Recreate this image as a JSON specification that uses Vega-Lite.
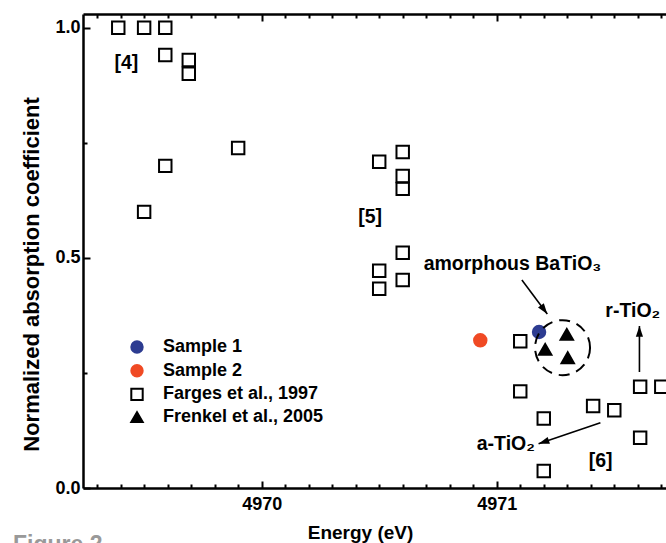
{
  "$schema": "https://vega.github.io/schema/vega-lite/v6.json",
  "width": 583,
  "height": 474,
  "autosize": {"type": "none"},
  "padding": {"left": 83, "top": 14, "right": 0, "bottom": 55},
  "background": "white",
  "title": {"text": "Figure 2", "orient": "bottom", "anchor": "start", "frame": "group", "offset": -8, "dx": -70, "font": "Liberation Sans", "fontSize": 23, "fontWeight": "bold", "color": "#999999"},
  "config": {"view": {"stroke": null}, "font": "Liberation Sans", "axis": {"grid": false, "domainColor": "black", "tickColor": "black", "labelColor": "black", "titleColor": "black", "labelFont": "Liberation Sans", "titleFont": "Liberation Sans"},
    "legend": {"orient": "none", "legendX": 45, "legendY": 324, "padding": 0, "labelFont": "Liberation Sans", "labelFontSize": 18, "labelFontWeight": "bold", "labelColor": "black", "labelLimit": 400, "symbolSize": 130, "symbolStrokeWidth": 2, "labelOffset": 17, "rowPadding": 3.7}},
  "datasets": {
    "points": [
      {"energy": 4969.39, "absorption": 1.0, "series": "Farges et al., 1997"},
      {"energy": 4969.50, "absorption": 1.0, "series": "Farges et al., 1997"},
      {"energy": 4969.59, "absorption": 1.0, "series": "Farges et al., 1997"},
      {"energy": 4969.59, "absorption": 0.941, "series": "Farges et al., 1997"},
      {"energy": 4969.69, "absorption": 0.930, "series": "Farges et al., 1997"},
      {"energy": 4969.69, "absorption": 0.900, "series": "Farges et al., 1997"},
      {"energy": 4969.59, "absorption": 0.700, "series": "Farges et al., 1997"},
      {"energy": 4969.50, "absorption": 0.600, "series": "Farges et al., 1997"},
      {"energy": 4969.90, "absorption": 0.739, "series": "Farges et al., 1997"},
      {"energy": 4970.50, "absorption": 0.709, "series": "Farges et al., 1997"},
      {"energy": 4970.60, "absorption": 0.730, "series": "Farges et al., 1997"},
      {"energy": 4970.60, "absorption": 0.678, "series": "Farges et al., 1997"},
      {"energy": 4970.60, "absorption": 0.650, "series": "Farges et al., 1997"},
      {"energy": 4970.50, "absorption": 0.472, "series": "Farges et al., 1997"},
      {"energy": 4970.60, "absorption": 0.511, "series": "Farges et al., 1997"},
      {"energy": 4970.50, "absorption": 0.433, "series": "Farges et al., 1997"},
      {"energy": 4970.60, "absorption": 0.452, "series": "Farges et al., 1997"},
      {"energy": 4971.10, "absorption": 0.319, "series": "Farges et al., 1997"},
      {"energy": 4971.10, "absorption": 0.210, "series": "Farges et al., 1997"},
      {"energy": 4971.20, "absorption": 0.151, "series": "Farges et al., 1997"},
      {"energy": 4971.20, "absorption": 0.037, "series": "Farges et al., 1997"},
      {"energy": 4971.41, "absorption": 0.178, "series": "Farges et al., 1997"},
      {"energy": 4971.50, "absorption": 0.169, "series": "Farges et al., 1997"},
      {"energy": 4971.61, "absorption": 0.220, "series": "Farges et al., 1997"},
      {"energy": 4971.70, "absorption": 0.220, "series": "Farges et al., 1997"},
      {"energy": 4971.61, "absorption": 0.109, "series": "Farges et al., 1997"},
      {"energy": 4970.93, "absorption": 0.321, "series": "Sample 2"},
      {"energy": 4971.18, "absorption": 0.339, "series": "Sample 1"},
      {"energy": 4971.298, "absorption": 0.334, "series": "Frenkel et al., 2005"},
      {"energy": 4971.206, "absorption": 0.301, "series": "Frenkel et al., 2005"},
      {"energy": 4971.302, "absorption": 0.283, "series": "Frenkel et al., 2005"}
    ],
    "group": [{"energy": 4971.28, "absorption": 0.305}],
    "arrows": [
      {"arrow": "amorphous", "energy_start": 4971.107, "absorption_start": 0.452, "energy_end": 4971.215, "absorption_end": 0.378},
      {"arrow": "a-TiO2", "energy_start": 4971.441, "absorption_start": 0.142, "energy_end": 4971.178, "absorption_end": 0.096},
      {"arrow": "r-TiO2", "energy_start": 4971.607, "absorption_start": 0.252, "energy_end": 4971.607, "absorption_end": 0.352}
    ],
    "labels": [
      {"label": "[4]", "energy": 4969.374, "absorption": 0.910},
      {"label": "[5]", "energy": 4970.411, "absorption": 0.575},
      {"label": "[6]", "energy": 4971.391, "absorption": 0.046},
      {"label": "amorphous BaTiO₃", "energy": 4970.689, "absorption": 0.473},
      {"label": "r-TiO₂", "energy": 4971.462, "absorption": 0.372},
      {"label": "a-TiO₂", "energy": 4970.915, "absorption": 0.082}
    ]
  },
  "layer": [
    {
      "data": {"name": "points"},
      "mark": {"type": "point", "strokeWidth": 2, "opacity": 1, "size": 155},
      "encoding": {
        "x": {"field": "energy", "type": "quantitative", "scale": {"domain": [4969.24, 4971.72], "nice": false, "zero": false},
          "axis": {"orient": "bottom", "values": [4970, 4971], "format": "d", "tickSize": -7, "tickWidth": 2, "domainWidth": 2.5, "labelFontSize": 18, "labelFontWeight": "bold", "labelPadding": 14, "title": "Energy (eV)", "titleFontSize": 19, "titleFontWeight": "bold", "titleX": 277, "titleY": 50, "titleBaseline": "alphabetic"}},
        "y": {"field": "absorption", "type": "quantitative", "scale": {"domain": [0, 1.03], "nice": false, "zero": false},
          "axis": {"orient": "left", "values": [0, 0.5, 1], "format": ".1f", "tickSize": -7, "tickWidth": 2, "domainWidth": 2.5, "labelFontSize": 18, "labelFontWeight": "bold", "labelPadding": 10, "title": "Normalized  absorption coefficient", "titleFontSize": 22, "titleFontWeight": "bold", "titleX": -52, "titleY": 260, "titleBaseline": "middle"}},
        "shape": {"field": "series", "type": "nominal", "title": null, "scale": {"domain": ["Sample 1", "Sample 2", "Farges et al., 1997", "Frenkel et al., 2005"], "range": ["circle", "circle", "square", "triangle-up"]}},
        "fill": {"field": "series", "type": "nominal", "title": null, "scale": {"domain": ["Sample 1", "Sample 2", "Farges et al., 1997", "Frenkel et al., 2005"], "range": ["#2D3C91", "#F04A24", "transparent", "black"]}},
        "stroke": {"field": "series", "type": "nominal", "title": null, "scale": {"domain": ["Sample 1", "Sample 2", "Farges et al., 1997", "Frenkel et al., 2005"], "range": ["#2D3C91", "#F04A24", "black", "black"]}}
      }
    },
    {
      "data": {"name": "points"},
      "mark": {"type": "point", "opacity": 0},
      "encoding": {
        "x": {"field": "energy", "type": "quantitative", "scale": {"domain": [4969.24, 4971.72], "nice": false, "zero": false},
          "axis": {"orient": "bottom", "values": [4969.3, 4969.4, 4969.5, 4969.6, 4969.7, 4969.8, 4969.9, 4970.1, 4970.2, 4970.3, 4970.4, 4970.5, 4970.6, 4970.7, 4970.8, 4970.9, 4971.1, 4971.2, 4971.3, 4971.4, 4971.5, 4971.6, 4971.7], "tickSize": -4, "tickWidth": 2, "labels": false, "domain": false, "title": null}},
        "y": {"field": "absorption", "type": "quantitative", "scale": {"domain": [0, 1.03], "nice": false, "zero": false},
          "axis": {"orient": "left", "values": [0.25, 0.75], "tickSize": -4, "tickWidth": 2, "labels": false, "domain": false, "title": null}}
      }
    },
    {
      "data": {"name": "points"},
      "mark": {"type": "point", "opacity": 0},
      "encoding": {
        "x": {"field": "energy", "type": "quantitative", "scale": {"domain": [4969.24, 4971.72], "nice": false, "zero": false},
          "axis": {"orient": "top", "values": [4970, 4971], "tickSize": -7, "tickWidth": 2, "domainWidth": 2.5, "labels": false, "title": null}},
        "y": {"field": "absorption", "type": "quantitative", "scale": {"domain": [0, 1.03], "nice": false, "zero": false}, "axis": null}
      }
    },
    {
      "data": {"name": "points"},
      "mark": {"type": "point", "opacity": 0},
      "encoding": {
        "x": {"field": "energy", "type": "quantitative", "scale": {"domain": [4969.24, 4971.72], "nice": false, "zero": false},
          "axis": {"orient": "top", "values": [4969.3, 4969.4, 4969.5, 4969.6, 4969.7, 4969.8, 4969.9, 4970.1, 4970.2, 4970.3, 4970.4, 4970.5, 4970.6, 4970.7, 4970.8, 4970.9, 4971.1, 4971.2, 4971.3, 4971.4, 4971.5, 4971.6, 4971.7], "tickSize": -4, "tickWidth": 2, "labels": false, "domain": false, "title": null}},
        "y": {"field": "absorption", "type": "quantitative", "scale": {"domain": [0, 1.03], "nice": false, "zero": false}, "axis": null}
      }
    },
    {
      "data": {"name": "group"},
      "mark": {"type": "point", "shape": "circle", "size": 3025, "filled": false, "stroke": "black", "strokeWidth": 2, "strokeDash": [11, 7], "opacity": 1},
      "encoding": {
        "x": {"field": "energy", "type": "quantitative", "axis": null},
        "y": {"field": "absorption", "type": "quantitative", "axis": null}
      }
    },
    {
      "data": {"name": "arrows"},
      "mark": {"type": "rule", "stroke": "black", "strokeWidth": 1.6},
      "encoding": {
        "x": {"field": "energy_start", "type": "quantitative", "axis": null},
        "y": {"field": "absorption_start", "type": "quantitative", "axis": null},
        "x2": {"field": "energy_end"},
        "y2": {"field": "absorption_end"}
      }
    },
    {
      "data": {"name": "arrows"},
      "transform": [{"filter": "datum.arrow === 'amorphous'"}],
      "mark": {"type": "point", "shape": "M0,0L-0.4,1.2L0.4,1.2Z", "size": 324, "filled": true, "fill": "black", "stroke": null, "opacity": 1, "angle": 144},
      "encoding": {
        "x": {"field": "energy_end", "type": "quantitative", "axis": null},
        "y": {"field": "absorption_end", "type": "quantitative", "axis": null}
      }
    },
    {
      "data": {"name": "arrows"},
      "transform": [{"filter": "datum.arrow === 'a-TiO2'"}],
      "mark": {"type": "point", "shape": "M0,0L-0.4,1.2L0.4,1.2Z", "size": 324, "filled": true, "fill": "black", "stroke": null, "opacity": 1, "angle": 251},
      "encoding": {
        "x": {"field": "energy_end", "type": "quantitative", "axis": null},
        "y": {"field": "absorption_end", "type": "quantitative", "axis": null}
      }
    },
    {
      "data": {"name": "arrows"},
      "transform": [{"filter": "datum.arrow === 'r-TiO2'"}],
      "mark": {"type": "point", "shape": "M0,0L-0.4,1.2L0.4,1.2Z", "size": 324, "filled": true, "fill": "black", "stroke": null, "opacity": 1, "angle": 0},
      "encoding": {
        "x": {"field": "energy_end", "type": "quantitative", "axis": null},
        "y": {"field": "absorption_end", "type": "quantitative", "axis": null}
      }
    },
    {
      "data": {"name": "labels"},
      "mark": {"type": "text", "align": "left", "baseline": "alphabetic", "font": "Liberation Sans", "fontSize": 19.5, "fontWeight": "bold", "color": "black"},
      "encoding": {
        "x": {"field": "energy", "type": "quantitative", "axis": null},
        "y": {"field": "absorption", "type": "quantitative", "axis": null},
        "text": {"field": "label"}
      }
    }
  ],
  "resolve": {"axis": {"x": "independent", "y": "independent"}}
}
